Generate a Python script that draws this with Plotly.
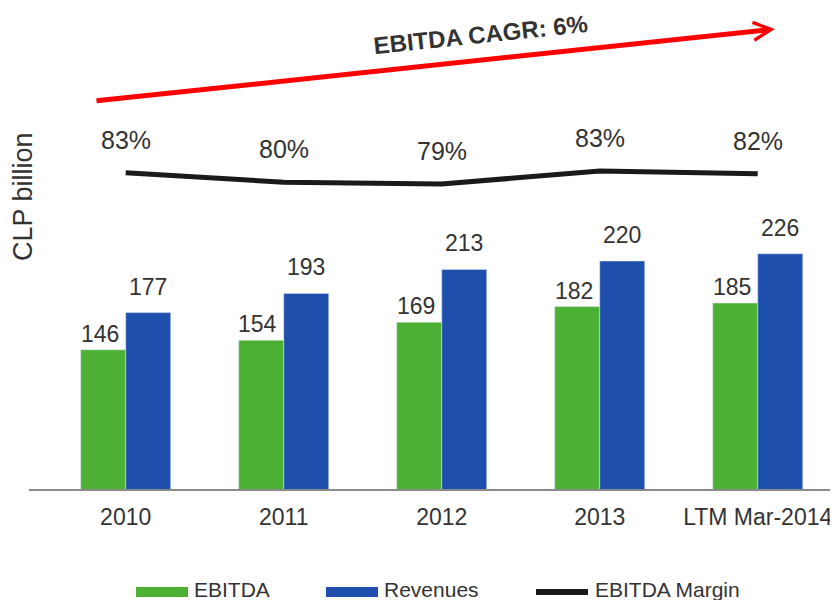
import plotly.graph_objects as go

# ---- data ----
categories = ["2010", "2011", "2012", "2013", "LTM Mar-2014"]
ebitda = [146, 154, 169, 182, 185]
revenues = [177, 193, 213, 220, 226]
margin_pct = [82.6, 79.9, 79.4, 83.1, 82.3]          # line position (estimated)
margin_labels = ["83%", "80%", "79%", "83%", "82%"]
cagr_text = "EBITDA CAGR: 6%"

GREEN = "#4cb034"
BLUE = "#1f4fad"
TXT = "#333333"
FONT = "Liberation Sans, Arial, sans-serif"

OFF = 8                      # page body margin of the html file
W, H = 838 - OFF, 600 - OFF
L, R, T, B = 29 - OFF, 0, 0, 111
PW, PH = W - L - R, H - T - B


def px(x):                   # page pixel -> paper
    return (x - OFF - L) / PW


def py(y):
    return (H - B - (y - OFF)) / PH


idx = list(range(len(categories)))

fig = go.Figure()
fig.add_trace(go.Bar(x=categories, y=ebitda, name="EBITDA", marker_color=GREEN,
                     showlegend=False))
fig.add_trace(go.Bar(x=categories, y=revenues, name="Revenues", marker_color=BLUE,
                     showlegend=False))
fig.add_trace(go.Scatter(x=categories, y=margin_pct, name="EBITDA Margin", mode="lines",
                         line=dict(color="#1a1a1a", width=5), yaxis="y2",
                         showlegend=False))

ann = []
for i, v in zip(idx, ebitda):
    ann.append(dict(x=i, y=v, xref="x", yref="y", text=str(v), showarrow=False,
                    yanchor="bottom", xanchor="center", xshift=-26, yshift=1,
                    font=dict(size=23, color=TXT, family=FONT)))
for i, v in zip(idx, revenues):
    ann.append(dict(x=i, y=v, xref="x", yref="y", text=str(v), showarrow=False,
                    yanchor="bottom", xanchor="center", xshift=22, yshift=11,
                    font=dict(size=23, color=TXT, family=FONT)))
for i, v, t in zip(idx, margin_pct, margin_labels):
    ann.append(dict(x=i, y=v, xref="x", yref="y2", text=t, showarrow=False,
                    yanchor="bottom", xanchor="center", yshift=17,
                    font=dict(size=25, color=TXT, family=FONT)))

# CAGR arrow
ann.append(dict(x=px(775), y=py(29), xref="paper", yref="paper", ax=95 - 775, ay=101 - 29,
                showarrow=True, arrowhead=5, arrowsize=0.7,
                arrowwidth=5, arrowcolor="#ff0000", text=""))
ann.append(dict(x=px(481), y=py(34), xref="paper", yref="paper", text="<b>" + cagr_text + "</b>",
                showarrow=False, textangle=-6, xanchor="center", yanchor="middle",
                font=dict(size=24, color=TXT, family=FONT)))

# y-axis title
ann.append(dict(x=px(23), y=py(197), xref="paper", yref="paper", text="CLP billion",
                showarrow=False, textangle=-90, xanchor="center", yanchor="middle",
                font=dict(size=27, color=TXT, family=FONT)))

# manual legend
shapes = [
    dict(type="rect", xref="paper", yref="paper", x0=px(136), x1=px(188), y0=py(597), y1=py(587),
         fillcolor=GREEN, line=dict(width=0)),
    dict(type="rect", xref="paper", yref="paper", x0=px(326), x1=px(378), y0=py(597), y1=py(587),
         fillcolor=BLUE, line=dict(width=0)),
    dict(type="line", xref="paper", yref="paper", x0=px(536), x1=px(588), y0=py(592), y1=py(592),
         line=dict(color="#1a1a1a", width=6)),
]
for xs, name in [(192, "EBITDA"), (382, "Revenues"), (593, "EBITDA Margin")]:
    ann.append(dict(x=px(xs), y=py(589), xref="paper", yref="paper", text=name, showarrow=False,
                    xanchor="left", yanchor="middle",
                    font=dict(size=21, color=TXT, family=FONT)))

fig.update_layout(
    width=W, height=H,
    margin=dict(l=L, r=R, t=T, b=B),
    paper_bgcolor="white", plot_bgcolor="white",
    barmode="group", bargap=0.43, bargroupgap=0,
    xaxis=dict(type="category", range=[-0.612, 4.508], showline=True, linecolor="#8a8a8a",
               linewidth=2, ticks="", showgrid=False, zeroline=False, ticklabelstandoff=6,
               tickfont=dict(size=23, color=TXT, family=FONT)),
    yaxis=dict(range=[30, 30 + 481 / 1.2], visible=False, showgrid=False, zeroline=False),
    yaxis2=dict(range=[83.1 - 318 / 3.51, 83.1 + 163 / 3.51], overlaying="y", visible=False,
                showgrid=False, zeroline=False),
    annotations=ann,
    shapes=shapes,
    showlegend=False,
)

fig.write_html("out.html")
